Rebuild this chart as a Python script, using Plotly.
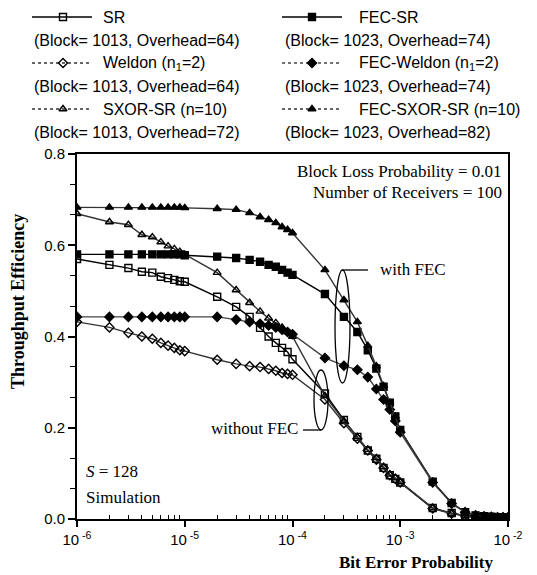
import plotly.graph_objects as go

# ---------------- data ----------------
ber = [m * 10.0 ** e for e in (-6, -5, -4, -3) for m in range(1, 10)] + [1e-2]

sr = [0.570, 0.557, 0.550, 0.542, 0.540, 0.531, 0.528, 0.524, 0.521,
      0.520, 0.487, 0.465, 0.443, 0.419, 0.400, 0.386, 0.375, 0.366,
      0.350, 0.275, 0.217, 0.180, 0.150, 0.132, 0.112, 0.096, 0.088,
      0.080, 0.024, 0.013, 0.007, 0.004, 0.003, 0.003, 0.003, 0.003,
      0.003]
weldon = [0.432, 0.420, 0.408, 0.400, 0.395, 0.386, 0.380, 0.375, 0.370,
          0.368, 0.349, 0.340, 0.335, 0.333, 0.329, 0.325, 0.320, 0.318,
          0.316, 0.262, 0.210, 0.176, 0.150, 0.130, 0.112, 0.096, 0.088,
          0.080, 0.023, 0.012, 0.007, 0.004, 0.003, 0.003, 0.003, 0.003,
          0.003]
sxor = [0.669, 0.651, 0.645, 0.623, 0.618, 0.607, 0.598, 0.592, 0.586,
        0.580, 0.540, 0.502, 0.474, 0.455, 0.440, 0.430, 0.420, 0.410,
        0.400, 0.270, 0.215, 0.180, 0.152, 0.134, 0.114, 0.098, 0.090,
        0.081, 0.024, 0.012, 0.007, 0.004, 0.003, 0.003, 0.003, 0.003,
        0.003]
fec_sr = [0.580, 0.580, 0.580, 0.580, 0.580, 0.580, 0.580, 0.580, 0.580,
          0.578, 0.575, 0.572, 0.568, 0.564, 0.557, 0.553, 0.546, 0.540,
          0.535, 0.493, 0.443, 0.410, 0.370, 0.330, 0.290, 0.255, 0.225,
          0.195, 0.082, 0.035, 0.015, 0.008, 0.006, 0.005, 0.004, 0.004,
          0.004]
fec_weldon = [0.443, 0.443, 0.443, 0.443, 0.443, 0.443, 0.443, 0.443, 0.443,
              0.443, 0.443, 0.437, 0.432, 0.428, 0.424, 0.420, 0.415, 0.410,
              0.405, 0.353, 0.336, 0.327, 0.311, 0.285, 0.262, 0.240, 0.215,
              0.190, 0.080, 0.034, 0.015, 0.008, 0.006, 0.005, 0.004, 0.004,
              0.004]
fec_sxor = [0.683, 0.683, 0.683, 0.683, 0.683, 0.683, 0.683, 0.683, 0.683,
            0.682, 0.680, 0.678, 0.671, 0.662, 0.656, 0.649, 0.640, 0.634,
            0.627, 0.546, 0.480, 0.432, 0.380, 0.335, 0.292, 0.255, 0.225,
            0.195, 0.082, 0.035, 0.015, 0.008, 0.006, 0.005, 0.004, 0.004,
            0.004]

series_names = ["SR", "Weldon (n<sub>1</sub>=2)", "SXOR-SR (n=10)",
                "FEC-SR", "FEC-Weldon (n<sub>1</sub>=2)", "FEC-SXOR-SR (n=10)"]
series_sub = ["(Block= 1013, Overhead=64)", "(Block= 1013, Overhead=64)",
              "(Block= 1013, Overhead=72)", "(Block= 1023, Overhead=74)",
              "(Block= 1023, Overhead=74)", "(Block= 1023, Overhead=82)"]
series_vals = [sr, weldon, sxor, fec_sr, fec_weldon, fec_sxor]
symbols = ["square-open", "diamond-open", "triangle-up-open",
           "square", "diamond", "triangle-up"]
line_colors = ["#000000", "#333333", "#333333", "#000000", "#444444", "#333333"]
sample_dash = ["solid", "dot", "dot", "solid", "dot", "dot"]

xtick_vals = [1e-6, 1e-5, 1e-4, 1e-3, 1e-2]
xtick_text = ["10<sup> -6</sup>", "10<sup> -5</sup>", "10<sup> -4</sup>",
              "10<sup> -3</sup>", "10<sup> -2</sup>"]
xminor_vals = [m * 10.0 ** e for e in (-6, -5, -4, -3) for m in range(2, 10)]
ytick_vals = [0.0, 0.2, 0.4, 0.6, 0.8]
ytick_text = ["0.0", "0.2", "0.4", "0.6", "0.8"]

# ---------------- figure ----------------
W, H = 537, 575
SANS = "Liberation Sans, Arial, sans-serif"
SERIF = "Liberation Serif, Times New Roman, serif"

fig = go.Figure()

for name, vals, sym, col in zip(series_names, series_vals, symbols, line_colors):
    fig.add_trace(go.Scatter(
        x=ber, y=vals, mode="lines+markers", name=name,
        line=dict(color=col, width=1.4),
        marker=dict(symbol=sym, size=7, color="black",
                    line=dict(color="black", width=1.4)),
        showlegend=False, xaxis="x", yaxis="y"))

# legend samples on a pixel-overlay axis
leg_cols = [(32, 92, 63, 101, 32), (282, 342, 312, 357, 283)]
leg_rows = [17, 63, 109]
for i in range(6):
    c = leg_cols[i // 3]
    ry = leg_rows[i % 3]
    fig.add_trace(go.Scatter(
        x=[c[0], c[2], c[1]], y=[ry, ry, ry], mode="lines",
        line=dict(color=line_colors[i], width=1.3, dash=sample_dash[i]),
        showlegend=False, hoverinfo="skip", xaxis="x2", yaxis="y2"))
    fig.add_trace(go.Scatter(
        x=[c[2]], y=[ry], mode="markers",
        marker=dict(symbol=symbols[i], size=7, color="black",
                    line=dict(color="black", width=1.4)),
        showlegend=False, hoverinfo="skip", xaxis="x2", yaxis="y2"))

annotations = []
for i in range(6):
    c = leg_cols[i // 3]
    ry = leg_rows[i % 3]
    annotations.append(dict(x=c[3], y=ry, xref="x2", yref="y2", text=series_names[i],
                            showarrow=False, xanchor="left", yanchor="middle",
                            font=dict(family=SANS, size=16, color="black")))
    annotations.append(dict(x=c[4], y=ry + 23, xref="x2", yref="y2", text=series_sub[i],
                            showarrow=False, xanchor="left", yanchor="middle",
                            font=dict(family=SANS, size=16, color="black")))

def txt(x, y, s, anchor="left", size=17, bold=False, angle=0):
    annotations.append(dict(x=x, y=y, xref="x2", yref="y2",
                            text=("<b>%s</b>" % s) if bold else s,
                            showarrow=False, xanchor=anchor, yanchor="middle",
                            textangle=angle,
                            font=dict(family=SERIF, size=size, color="black")))

txt(504, 171, "Block Loss Probability = 0.01", "right")
txt(504, 192, "Number of Receivers = 100", "right")
txt(378, 269, "with FEC", "left")
txt(300, 428, "without FEC", "right")
txt(84, 471, "<i>S</i> = 128", "left")
txt(84, 497, "Simulation", "left")
txt(416, 562, "Bit Error Probability", "center", 17, True)
txt(18, 302, "Throughput Efficiency", "center", 18, True, -90)

shapes = [
    dict(type="circle", xref="x2", yref="y2", x0=335, x1=350, y0=270, y1=383,
         line=dict(color="black", width=1.3)),
    dict(type="line", xref="x2", yref="y2", x0=342.5, x1=368, y0=270, y1=270,
         line=dict(color="black", width=1.3)),
    dict(type="circle", xref="x2", yref="y2", x0=314, x1=328, y0=370, y1=430,
         line=dict(color="black", width=1.3)),
    dict(type="line", xref="x2", yref="y2", x0=303, x1=321, y0=430, y1=430,
         line=dict(color="black", width=1.3)),
]

fig.update_layout(
    width=W, height=H,
    margin=dict(l=0, r=0, t=0, b=0),
    paper_bgcolor="white", plot_bgcolor="rgba(0,0,0,0)",
    showlegend=False,
    annotations=annotations, shapes=shapes,
    xaxis=dict(type="log", domain=[77 / W, 508 / W], range=[-6, -2],
               anchor="y", tickvals=xtick_vals, ticktext=xtick_text,
               ticks="outside", ticklen=6, tickwidth=1.5, tickcolor="black",
               showgrid=False, zeroline=False,
               showline=True, linecolor="black", linewidth=2, mirror=True,
               tickfont=dict(family=SANS, size=15, color="black"),
               minor=dict(tickvals=xminor_vals, ticks="inside", ticklen=4,
                          tickwidth=1.2, tickcolor="black", showgrid=False),
               automargin=False),
    yaxis=dict(domain=[(H - 519) / H, (H - 154) / H], range=[0, 0.8],
               anchor="x", tickvals=ytick_vals, ticktext=ytick_text,
               ticks="outside", ticklen=7, tickwidth=1.5, tickcolor="black",
               showgrid=False, zeroline=False,
               showline=True, linecolor="black", linewidth=2, mirror=True,
               tickfont=dict(family=SANS, size=15, color="black"),
               minor=dict(dtick=0.2 / 3, tick0=0, ticks="outside", ticklen=5,
                          tickwidth=1.2, tickcolor="black", showgrid=False),
               automargin=False),
    xaxis2=dict(domain=[0, 1], range=[0, W], anchor="y2", visible=False,
                fixedrange=True),
    yaxis2=dict(domain=[0, 1], range=[H, 0], anchor="x2", visible=False,
                fixedrange=True),
)

fig.write_html("out.html",
               config={"displayModeBar": False},
               post_script="document.body.style.margin='0px';"
                           "document.body.style.padding='0px';")
